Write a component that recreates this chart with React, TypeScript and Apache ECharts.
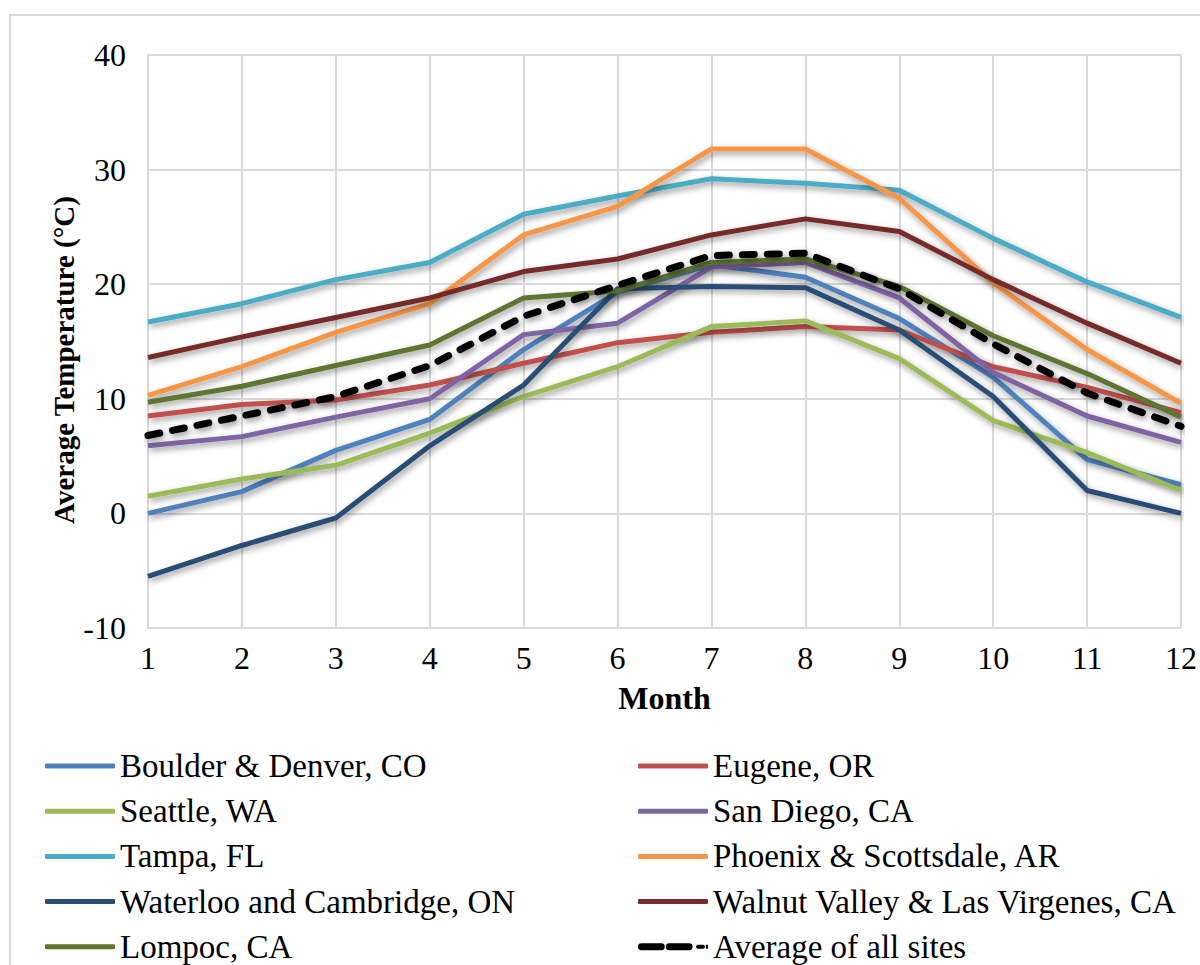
import React, { useEffect, useRef } from "react";
import * as echarts from "echarts";

// Monthly average temperature (°C) per site, months 1..12
const months = [1, 2, 3, 4, 5, 6, 7, 8, 9, 10, 11, 12];

const boulder = [0.0, 1.9, 5.5, 8.2, 14.3, 19.3, 21.7, 20.6, 17.0, 11.9, 4.7, 2.5];
const eugene = [8.5, 9.5, 9.9, 11.2, 13.1, 14.9, 15.8, 16.3, 16.0, 12.8, 11.0, 8.8];
const seattle = [1.5, 3.0, 4.2, 7.0, 10.2, 12.8, 16.3, 16.8, 13.5, 8.1, 5.3, 2.0];
const sanDiego = [5.9, 6.7, 8.4, 10.0, 15.6, 16.6, 21.5, 21.9, 18.8, 12.3, 8.5, 6.2];
const tampa = [16.7, 18.3, 20.4, 21.9, 26.1, 27.7, 29.2, 28.8, 28.2, 24.0, 20.2, 17.1];
const phoenix = [10.3, 12.8, 15.8, 18.3, 24.3, 26.8, 31.8, 31.8, 27.5, 20.1, 14.3, 9.6];
const waterloo = [-5.5, -2.8, -0.4, 5.9, 11.2, 19.6, 19.8, 19.7, 16.0, 10.2, 2.0, 0.0];
const walnut = [13.6, 15.4, 17.1, 18.8, 21.1, 22.2, 24.3, 25.7, 24.6, 20.4, 16.6, 13.1];
const lompoc = [9.7, 11.1, 12.9, 14.7, 18.8, 19.4, 21.9, 22.2, 19.8, 15.5, 12.2, 8.4];
const average = [6.8, 8.5, 10.2, 12.9, 17.2, 19.9, 22.5, 22.7, 19.6, 14.8, 10.5, 7.6];

const yTicks = { min: -10, max: 40, interval: 10 };

const FONT = "Liberation Serif";

type SiteDef = { name: string; data: number[]; color: string };

const sites: SiteDef[] = [
  { name: "Boulder & Denver, CO", data: boulder, color: "#4F81BD" },
  { name: "Eugene, OR", data: eugene, color: "#C0504D" },
  { name: "Seattle, WA", data: seattle, color: "#9BBB59" },
  { name: "San Diego, CA", data: sanDiego, color: "#8064A2" },
  { name: "Tampa, FL", data: tampa, color: "#4BACC6" },
  { name: "Phoenix & Scottsdale, AR", data: phoenix, color: "#F79646" },
  { name: "Waterloo and Cambridge, ON", data: waterloo, color: "#2C4D75" },
  { name: "Walnut Valley & Las Virgenes, CA", data: walnut, color: "#772C2A" },
  { name: "Lompoc, CA", data: lompoc, color: "#5F7530" },
];

const avgName = "Average of all sites";

// Legend entries in reading order (two columns)
const legendOrder = [...sites.map((s) => s.name), avgName];

// Dashed key used for the average series: two dashes and a dot
const DASH_ICON = "path://M3,0H23A3,3 0 0 1 23,7H3A3,3 0 0 1 3,0Z M31,0H51A3,3 0 0 1 51,7H31A3,3 0 0 1 31,0Z M60,1.5H65A2,2 0 0 1 65,5.5H60A2,2 0 0 1 60,1.5Z M68,1.5H70V5.5H68Z";

export default function App() {
  const ref = useRef<HTMLDivElement>(null);

  useEffect(() => {
    document.body.style.margin = "0";
    if (!ref.current) return;
    const chart = echarts.init(ref.current, undefined, { renderer: "svg" });

    const shadow = {
      shadowColor: "rgba(0,0,0,0.4)",
      shadowBlur: 6,
      shadowOffsetX: 2,
      shadowOffsetY: 3,
    };

    const series: any[] = sites.map((s) => ({
      name: s.name,
      type: "line",
      data: s.data.map((v, i) => [months[i], v]),
      symbol: "none",
      color: s.color,
      lineStyle: { color: s.color, width: 5, ...shadow },
    }));
    series.push({
      name: avgName,
      type: "line",
      data: average.map((v, i) => [months[i], v]),
      symbol: "none",
      color: "#000000",
      lineStyle: {
        color: "#000000",
        width: 7,
        type: [12, 13],
        cap: "round",
        ...shadow,
      },
    });

    const legendText = { fontFamily: FONT, fontSize: 33, color: "#000", lineHeight: 34 };
    const rowStep = 45.2;
    const firstRowCenter = 766;
    const legends = legendOrder.map((name, i) => {
      const col = i % 2;
      const row = Math.floor(i / 2);
      const isAvg = name === avgName;
      return {
        orient: "horizontal",
        left: col === 0 ? 45 : 638,
        top: firstRowCenter + row * rowStep - 17,
        padding: 0,
        itemWidth: 70,
        itemHeight: isAvg ? 7 : 5,
        textStyle: legendText,
        data: [{ name, icon: isAvg ? DASH_ICON : "roundRect" }],
      };
    });

    chart.setOption({
      animation: false,
      backgroundColor: "#ffffff",
      grid: { left: 148, right: 18, top: 55, bottom: 337, containLabel: false },
      xAxis: {
        type: "value",
        min: 1,
        max: 12,
        interval: 1,
        name: "Month",
        nameLocation: "middle",
        nameGap: 54,
        nameTextStyle: { fontFamily: FONT, fontSize: 32, fontWeight: "bold", color: "#000" },
        axisLine: { show: true, lineStyle: { color: "#D9D9D9", width: 2 } },
        axisTick: { show: false },
        axisLabel: { fontFamily: FONT, fontSize: 32, color: "#000", margin: 14 },
        splitLine: { show: true, lineStyle: { color: "#D9D9D9", width: 2 } },
      },
      yAxis: {
        type: "value",
        min: yTicks.min,
        max: yTicks.max,
        interval: yTicks.interval,
        axisLine: { show: true, lineStyle: { color: "#D9D9D9", width: 2 } },
        axisTick: { show: false },
        axisLabel: { fontFamily: FONT, fontSize: 32, color: "#000", margin: 22 },
        splitLine: { show: true, lineStyle: { color: "#D9D9D9", width: 2 } },
      },
      legend: legends,
      graphic: [
        {
          type: "rect",
          shape: { x: 10, y: 15, width: 1300, height: 1100 },
          style: { fill: "none", stroke: "#D9D9D9", lineWidth: 2 },
          silent: true,
          z: -1,
        },
        {
          type: "text",
          x: 64,
          y: 360,
          rotation: Math.PI / 2,
          style: {
            text: "Average Temperature (°C)",
            fontFamily: FONT,
            fontSize: 29,
            fontWeight: "bold",
            fill: "#000",
            align: "center",
            verticalAlign: "middle",
          },
        },
      ],
      series,
    });

    return () => chart.dispose();
  }, []);

  return <div ref={ref} style={{ width: 1200, height: 965 }} />;
}
